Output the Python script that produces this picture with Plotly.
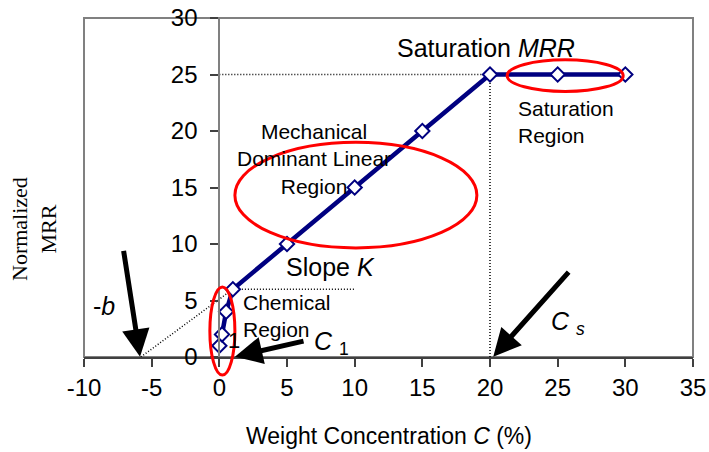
import plotly.graph_objects as go

# ---------------- data ----------------
conc = [0, 0.2, 0.5, 1, 5, 10, 15, 20, 25, 30]
mrr = [1, 2, 4, 6, 10, 15, 20, 25, 25, 25]

x_ticks = [-10, -5, 0, 5, 10, 15, 20, 25, 30, 35]
x_tick_labels = ["-10", "-5", "0", "5", "10", "15", "20", "25", "30", "35"]
y_ticks = [0, 5, 10, 15, 20, 25, 30]
y_tick_labels = ["0", "5", "10", "15", "20", "25", "30"]

x_range = [-10, 35]
y_range = [0, 30]

# dotted guide lines
sat_h_x = [0, 20]
sat_h_y = [25, 25]
sat_v_x = [20, 20]
sat_v_y = [0, 25]
slope_h_x = [1, 10]
slope_h_y = [6, 6]
b_line_x = [-5.8, 1]
b_line_y = [0, 6]

# red region outlines (x0, x1, y0, y1) in data units
region_mech = (1.15, 19.03, 9.65, 19.0)
region_sat = (21.27, 29.84, 23.5, 26.3)
region_chem = (-0.70, 1.15, -1.6, 6.2)

# arrows: (tail_x, tail_y, head_x, head_y)
arrow_b = (-7.09, 9.53, -5.86, 0.03)
arrow_c1 = (6.33, 1.44, 1.15, 0.03)
arrow_cs = (25.91, 7.64, 20.24, 0.03)

SANS = "Liberation Sans, Arial, sans-serif"
SERIF = "Liberation Serif, Times New Roman, serif"
NAVY = "#000080"


def fx(v):
    return (v - x_range[0]) / (x_range[1] - x_range[0])


def fy(v):
    return (v - y_range[0]) / (y_range[1] - y_range[0])


fig = go.Figure()

dot_style = dict(color="black", width=1.5, dash="1px,2px")
for xs, ys in [(sat_h_x, sat_h_y), (sat_v_x, sat_v_y),
               (slope_h_x, slope_h_y), (b_line_x, b_line_y)]:
    fig.add_trace(go.Scatter(x=xs, y=ys, mode="lines", line=dot_style,
                             hoverinfo="skip", showlegend=False))

fig.add_trace(go.Scatter(
    x=conc, y=mrr, mode="lines+markers",
    line=dict(color=NAVY, width=4.5),
    marker=dict(symbol="diamond", size=11, color="white",
                line=dict(color=NAVY, width=2)),
    showlegend=False))

shapes = [
    dict(type="rect", xref="paper", yref="paper", x0=0, x1=1, y0=0, y1=1,
         line=dict(color="#808080", width=2), layer="below"),
]
for (x0, x1, y0, y1) in [region_mech, region_sat, region_chem]:
    shapes.append(dict(type="circle", xref="paper", yref="paper",
                       x0=fx(x0), x1=fx(x1), y0=fy(y0), y1=fy(y1),
                       line=dict(color="#ff0000", width=3), layer="above"))

annotations = []
for (tx, ty, hx, hy) in [arrow_b, arrow_c1, arrow_cs]:
    annotations.append(dict(x=hx, y=hy, ax=tx, ay=ty, xref="x", yref="y",
                            axref="x", ayref="y", text="", showarrow=True,
                            arrowhead=2, arrowsize=1.1, arrowwidth=5,
                            arrowcolor="black", standoff=0))


def label(text, x, y, size, xanchor="center", align="center"):
    annotations.append(dict(x=x, y=y, xref="x", yref="y", text=text,
                            showarrow=False, xanchor=xanchor, yanchor="middle",
                            align=align,
                            font=dict(family=SANS, size=size, color="black")))


label("Saturation <i>MRR</i>", 19.67, 27.35, 25)
label("Saturation<br>Region", 21.9, 20.84, 21, xanchor="left", align="left")
label("Mechanical<br>Dominant Linear<br>Region", 6.97, 17.5, 21)
label("Slope <i>K</i>", 8.18, 7.95, 25)
label("Chemical<br>Region", 1.6, 3.63, 21, xanchor="left", align="left")
label("<i>C</i> <sub>1</sub>", 6.85, 1.2, 25, xanchor="left")
label("<i>C</i> <sub><i>s</i></sub>", 24.35, 3.0, 25, xanchor="left")
label("-<i>b</i>", -8.53, 4.51, 25)
label("1", 1.08, 1.45, 22)

annotations.append(dict(x=-0.0821, y=0.3776, xref="paper", yref="paper",
                        text="Normalized<br>MRR", textangle=-90,
                        showarrow=False, xanchor="center", yanchor="middle",
                        font=dict(family=SERIF, size=22, color="black")))
annotations.append(dict(x=0.5011, y=-0.2316, xref="paper", yref="paper",
                        text="Weight Concentration <i>C</i> (%)",
                        showarrow=False, xanchor="center", yanchor="middle",
                        font=dict(family=SANS, size=23, color="black")))

fig.update_layout(
    width=709, height=452,
    margin=dict(l=84, r=16, t=18, b=95, autoexpand=False),
    paper_bgcolor="white", plot_bgcolor="white",
    showlegend=False,
    shapes=shapes, annotations=annotations,
    xaxis=dict(range=x_range, tickvals=x_ticks, ticktext=x_tick_labels,
               ticks="outside", ticklen=8, automargin=False,
               tickwidth=1.5, tickcolor="#404040", showline=True,
               linecolor="#404040", linewidth=2, showgrid=False,
               zeroline=False,
               tickfont=dict(family=SANS, size=24, color="black")),
    yaxis=dict(range=y_range, tickvals=y_ticks, ticktext=y_tick_labels,
               anchor="free", automargin=False,
               position=fx(0), ticks="outside", ticklen=8, tickwidth=1.5,
               tickcolor="#404040", showline=True, linecolor="#808080",
               linewidth=2, showgrid=False, zeroline=False,
               ticklabelstandoff=8,
               tickfont=dict(family=SANS, size=24, color="black")),
)

fig.write_html("out.html")
